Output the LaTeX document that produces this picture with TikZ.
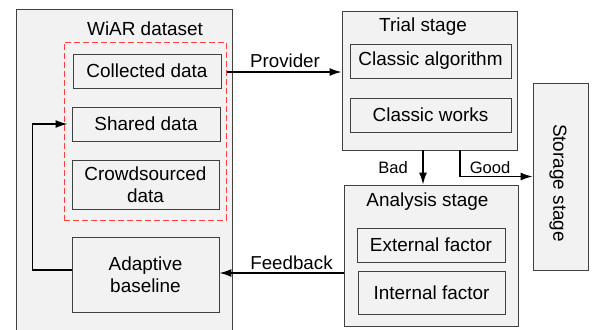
\documentclass[tikz,border=0pt]{standalone}
\usepackage{fontspec}
\setmainfont{Liberation Sans}
\usetikzlibrary{arrows.meta,calc}
\definecolor{boxfill}{HTML}{F2F2F2}
\definecolor{boxline}{HTML}{404040}
\definecolor{dashred}{HTML}{FF4040}
\tikzset{
  box/.style={draw=boxline, line width=0.9bp, fill=boxfill, rectangle, inner sep=0pt,
              font=\fontsize{19}{22.5}\selectfont, align=center},
  title/.style={inner sep=0pt, font=\fontsize{19}{22.5}\selectfont},
  lbl/.style={inner sep=0pt, font=\fontsize{18.8}{22}\selectfont},
  small/.style={inner sep=0pt, font=\fontsize{16.6}{20}\selectfont},
  arr/.style={draw=black, line width=1.4bp, -{Latex[length=12bp,width=8bp]}},
}
\begin{document}
\begin{tikzpicture}[x=1bp,y=-1bp]
\useasboundingbox (0,0) rectangle (592,329);
\clip (0,0) rectangle (592,329);
\fill[white] (0,0) rectangle (592,329);
% WiAR dataset
\node[box, minimum width=216bp, minimum height=331bp] (wiar) at (124,174.5) {};
\node[title] (wiartitle) at (145,29) {WiAR dataset};
\node[draw=dashred, dash pattern=on 6bp off 3bp, line width=1bp, rectangle,
      minimum width=162bp, minimum height=178bp, inner sep=0pt] (red) at (145,131) {};
\node[box, minimum width=148bp, minimum height=34bp] (collected) at (147,71) {Collected data};
\node[box, minimum width=148bp, minimum height=34bp] (shared) at (146,124) {Shared data};
\node[box, minimum width=147bp, minimum height=49bp] (crowd) at (145.5,184.5) {Crowdsourced\\data};
\node[box, minimum width=147bp, minimum height=75bp] (adaptive) at (145.5,274.5) {Adaptive\\baseline};
% Trial stage
\node[box, minimum width=175bp, minimum height=139bp] (trial) at (429.5,80.5) {};
\node[title] (trialtitle) at (423,27) {Trial stage};
\node[box, minimum width=161bp, minimum height=34bp] (algo) at (430.5,61) {Classic algorithm};
\node[box, minimum width=161bp, minimum height=34bp] (works) at (430.5,115) {Classic works};
% Storage stage
\node[box, minimum width=55bp, minimum height=187bp] (storage) at (560.5,176.5) {};
\node[title, rotate=-90] (storagetext) at (558,183) {Storage stage};
% Analysis stage
\node[box, minimum width=174bp, minimum height=141bp] (analysis) at (431,255.5) {};
\node[title] (analysistitle) at (427.5,202) {Analysis stage};
\node[box, minimum width=148bp, minimum height=34bp] (external) at (431,245) {External factor};
\node[box, minimum width=147bp, minimum height=43bp] (internal) at (431.5,292.5) {Internal factor};
% Connectors
\draw[arr] ([yshift=-1bp]collected.east -| red.east) -- ([yshift=-1bp]collected.east -| trial.west);
\node[lbl] (provider) at (285,61) {Provider};
\draw[arr] ([yshift=1.5bp]adaptive.east -| analysis.west) -- ([yshift=1.5bp]adaptive.east);
\node[lbl] (feedback) at (291.5,263) {Feedback};
\draw[arr] ([yshift=4.5bp]adaptive.west) -- ++(-39,0) |- ([xshift=-4bp]shared.west);
\draw[arr] ([xshift=-6.5bp]trial.south) -- ([xshift=-6.5bp]trial.south |- analysis.north);
\node[small] (bad) at (393,168) {Bad};
\draw[arr] ([xshift=30.5bp]trial.south) |- (storage.west);
\node[small] (good) at (490,168) {Good};
\end{tikzpicture}
\end{document}
